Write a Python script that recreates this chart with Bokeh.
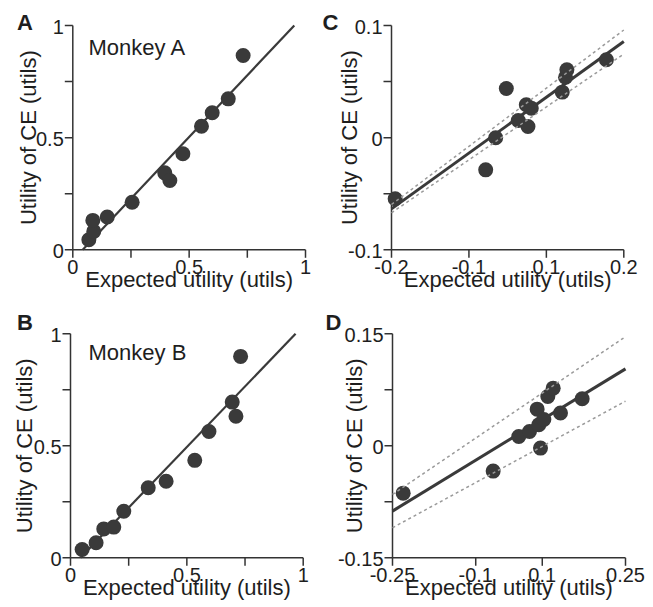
from math import pi
from bokeh.plotting import figure
from bokeh.layouts import gridplot
from bokeh.models import Range1d
from bokeh.core.properties import value
from bokeh.embed import file_html
from bokeh.resources import INLINE

# ---- data ----
a_eu = [0.069, 0.090, 0.086, 0.148, 0.255, 0.395, 0.417, 0.473, 0.553, 0.599, 0.668, 0.732]
a_ce = [0.045, 0.082, 0.131, 0.146, 0.212, 0.343, 0.309, 0.428, 0.551, 0.611, 0.673, 0.866]
a_fit = (1.10, -0.047)

b_eu = [0.050, 0.110, 0.143, 0.186, 0.229, 0.334, 0.411, 0.534, 0.595, 0.695, 0.711, 0.731]
b_ce = [0.037, 0.067, 0.129, 0.137, 0.208, 0.3125, 0.342, 0.435, 0.564, 0.695, 0.632, 0.899]
b_fit = (1.082, -0.0465)

c_eu = [-0.1937, -0.0378, -0.0206, -0.0023, 0.0183, 0.0321, 0.0407, 0.0350, 0.094, 0.0997, 0.102, 0.170]
c_ce = [-0.0545, -0.0287, -0.0001, 0.0438, 0.0153, 0.0293, 0.0263, 0.0100, 0.0406, 0.0539, 0.0605, 0.0694]
c_fit = (0.373, 0.0111)
c_upper = (0.389, 0.0182)
c_lower = (0.354, 0.0038)

d_eu = [-0.2271, -0.034, 0.021, 0.044, 0.0604, 0.064, 0.0748, 0.0676, 0.0833, 0.0948, 0.1105, 0.157]
d_ce = [-0.0634, -0.0339, 0.0125, 0.0192, 0.0491, 0.0281, 0.0353, -0.0031, 0.0661, 0.0772, 0.044, 0.063]
d_fit = (0.381, 0.0078)
d_upper = (0.4227, 0.0405)
d_lower = (0.339, -0.025)

ab_ticks = [0, 0.25, 0.5, 0.75, 1]
ab_labels = ["0", "", "0.5", "", "1"]
c_xticks = [-0.2, -0.2 / 3, 0.2 / 3, 0.2]
c_xlabels = ["-0.2", "-0.1", "0.1", "0.2"]
c_yticks = [-0.1, -0.05, 0, 0.05, 0.1]
c_ylabels = ["-0.1", "", "0", "", "0.1"]
d_xticks = [-0.25, -0.0714, 0.0714, 0.25]
d_xlabels = ["-0.25", "-0.1", "0.1", "0.25"]
d_yticks = [-0.15, -0.075, 0, 0.075, 0.15]
d_ylabels = ["-0.15", "", "0", "", "0.15"]

x_title = "Expected utility (utils)"
y_title = "Utility of CE (utils)"

FONT = value("Liberation Sans")
DARK = "#3a3a3a"
AXC = "#333333"
TXT = "#1e1e1e"
DASH = "#9a9a9a"
MID = 0.35  # distance (in em) from the alphabetic baseline up to the text middle


class Panel:
    """A figure whose frame fills the whole panel; axes are drawn with glyphs."""

    def __init__(self, W, H, xlim, ylim, fx, fy):
        self.xlim, self.ylim = xlim, ylim
        self.sx = (xlim[1] - xlim[0]) / (fx[1] - fx[0])
        self.sy = (ylim[1] - ylim[0]) / (fy[1] - fy[0])
        self.x0 = xlim[0] - fx[0] * self.sx
        self.y1 = ylim[1] + fy[0] * self.sy
        xr = Range1d(self.x0, xlim[1] + (W - fx[1]) * self.sx)
        yr = Range1d(ylim[0] - (H - fy[1]) * self.sy, self.y1)
        p = figure(width=W, height=H, x_range=xr, y_range=yr, min_border=0,
                   x_axis_location=None, y_axis_location=None,
                   output_backend="svg", toolbar_location=None)
        p.outline_line_color = None
        p.grid.visible = False
        self.p = p

    def px(self, x):
        return self.x0 + x * self.sx

    def py(self, y):
        return self.y1 - y * self.sy

    def text(self, x, y, txt, size, angle=0.0, align="left", bold=False):
        self.p.text(x=x, y=y, text=txt, angle=angle, text_font=FONT, text_font_size=f"{size}px",
                    text_font_style="bold" if bold else "normal", text_color=TXT,
                    text_align=align, text_baseline="middle")

    def axes(self, xt, xl, yt, yl, ylab_off):
        p, (x0, x1), (y0, y1) = self.p, self.xlim, self.ylim
        tx, ty = 8 * self.sx, 8 * self.sy
        kw = dict(line_color=AXC, line_width=1.5)
        p.segment(x0=[x0], y0=[y0], x1=[x1], y1=[y0], **kw)
        p.segment(x0=[x0], y0=[y0], x1=[x0], y1=[y1], **kw)
        p.segment(x0=xt, y0=[y0] * len(xt), x1=xt, y1=[y0 - ty] * len(xt), **kw)
        p.segment(x0=[x0] * len(yt), y0=yt, x1=[x0 - tx] * len(yt), y1=yt, **kw)
        xs = [(t, s) for t, s in zip(xt, xl) if s]
        ys = [(t, s) for t, s in zip(yt, yl) if s]
        self.text([t for t, _ in xs], [y0 - (24 - MID * 20) * self.sy] * len(xs), [s for _, s in xs], 20,
                  align="center")
        self.text([x0 - 9 * self.sx] * len(ys), [t - 1 * self.sy for t, _ in ys], [s for _, s in ys], 20,
                  align="right")
        self.text([(x0 + x1) / 2], [y0 - (37.5 - MID * 22) * self.sy], [x_title], 22, align="center")
        self.text([x0 - (ylab_off + MID * 22) * self.sx], [(y0 + y1) / 2], [y_title], 22,
                  angle=pi / 2, align="center")

    def note(self, txt, left, base, size, bold=False):
        self.text([self.px(left)], [self.py(base - MID * size)], [txt], size, bold=bold)


def fit_line(p, fit, x0, x1, **kw):
    m, b = fit
    p.line([x0, x1], [m * x0 + b, m * x1 + b], **kw)


# Panel A
A = Panel(320, 300, (0, 1), (0, 1), (72.3, 305), (25, 249.3))
A.axes(ab_ticks, ab_labels, ab_ticks, ab_labels, 37)
fit_line(A.p, a_fit, -a_fit[1] / a_fit[0], (1 - a_fit[1]) / a_fit[0], line_color=DARK, line_width=2.2)
A.p.scatter(a_eu, a_ce, size=15, fill_color=DARK, line_color=None)
A.note("A", 16.5, 30, 22, bold=True)
A.note("Monkey A", 88, 55, 22)

# Panel C
C = Panel(333, 300, (-0.2, 0.2), (-0.1, 0.1), (71, 303.3), (25, 249.3))
C.axes(c_xticks, c_xlabels, c_yticks, c_ylabels, 34.5)
fit_line(C.p, c_fit, -0.2, 0.2, line_color=DARK, line_width=3)
C.p.scatter(c_eu, c_ce, size=15, fill_color=DARK, line_color=None)
fit_line(C.p, c_upper, -0.2, 0.2, line_color=DASH, line_width=1.5, line_dash="3 3")
fit_line(C.p, c_lower, -0.2, 0.2, line_color=DASH, line_width=1.5, line_dash="3 3")
C.note("C", 2, 30, 22, bold=True)

# Panel B
B = Panel(320, 305, (0, 1), (0, 1), (70, 302.7), (33.3, 257.3))
B.axes(ab_ticks, ab_labels, ab_ticks, ab_labels, 38)
fit_line(B.p, b_fit, -b_fit[1] / b_fit[0], (1 - b_fit[1]) / b_fit[0], line_color=DARK, line_width=2.2)
B.p.scatter(b_eu, b_ce, size=15, fill_color=DARK, line_color=None)
B.note("B", 16.5, 30, 22, bold=True)
B.note("Monkey B", 88, 60, 22)

# Panel D
D = Panel(333, 305, (-0.25, 0.25), (-0.15, 0.15), (72, 305), (33.3, 257.3))
D.axes(d_xticks, d_xlabels, d_yticks, d_ylabels, 30.5)
fit_line(D.p, d_fit, -0.25, 0.25, line_color=DARK, line_width=3)
D.p.scatter(d_eu, d_ce, size=15, fill_color=DARK, line_color=None)
fit_line(D.p, d_upper, -0.25, 0.25, line_color=DASH, line_width=1.5, line_dash="3 3")
fit_line(D.p, d_lower, -0.25, 0.25, line_color=DASH, line_width=1.5, line_dash="3 3")
D.note("D", 5, 30, 22, bold=True)

grid = gridplot([[A.p, C.p], [B.p, D.p]], toolbar_location=None)
open("out.html", "w").write(file_html(grid, INLINE))
